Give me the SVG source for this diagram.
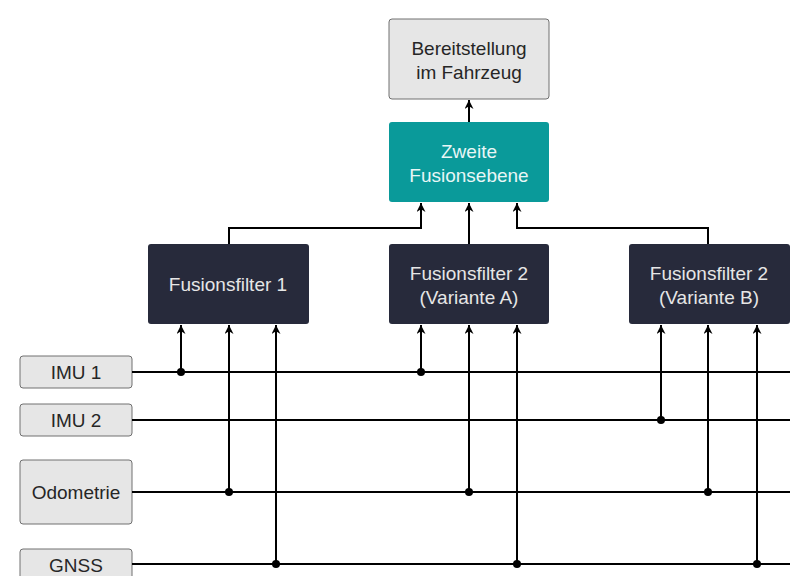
<svg xmlns="http://www.w3.org/2000/svg" width="790" height="576" viewBox="0 0 790 576">
<style>
text{font-family:"Liberation Sans",Arial,sans-serif;font-size:19px;text-anchor:middle;dominant-baseline:central}
.light rect{fill:#e6e6e6;stroke:#707070;stroke-width:1}
.light text{fill:#262626}
.dark rect{fill:#272a3b;stroke:none}
.dark text{fill:#e6e6e6}
.teal rect{fill:#0a9a9a;stroke:none}
.teal text{fill:#e8f6f6}
.c line,.c polyline{stroke:#000;stroke-width:2;fill:none}
.c circle{fill:#000}
</style>
<defs>
<marker id="ah" viewBox="0 0 10 10" refX="10" refY="5" markerWidth="10" markerHeight="9" orient="auto" markerUnits="userSpaceOnUse">
<path d="M0,0 L10,5 L0,10 L3,5 Z" fill="#000"/>
</marker>
</defs>
<g id="bereitstellung" class="light"><rect x="389" y="19" width="160" height="80" rx="3"/><text x="469" y="48">Bereitstellung</text><text x="469" y="72">im Fahrzeug</text></g>
<g id="zweite" class="teal"><rect x="389" y="122" width="160" height="80" rx="3"/><text x="469" y="151">Zweite</text><text x="469" y="175">Fusionsebene</text></g>
<g id="ff1" class="dark"><rect x="148" y="244" width="161" height="80" rx="3"/><text x="228" y="284">Fusionsfilter 1</text></g>
<g id="ff2a" class="dark"><rect x="389" y="244" width="160" height="80" rx="3"/><text x="469" y="273">Fusionsfilter 2</text><text x="469" y="297"> (Variante A)</text></g>
<g id="ff2b" class="dark"><rect x="629" y="244" width="161" height="80" rx="3"/><text x="709" y="273">Fusionsfilter 2</text><text x="709" y="297"> (Variante B)</text></g>
<g id="imu1" class="light"><rect x="20" y="356" width="112" height="32" rx="3"/><text x="76" y="372">IMU 1</text></g>
<g id="imu2" class="light"><rect x="20" y="404" width="112" height="32" rx="3"/><text x="76" y="420">IMU 2</text></g>
<g id="odometrie" class="light"><rect x="20" y="460" width="112" height="64" rx="3"/><text x="76" y="492">Odometrie</text></g>
<g id="gnss" class="light"><rect x="20" y="549" width="112" height="32" rx="3"/><text x="76" y="565">GNSS</text></g>
<g id="connectors" class="c">
<line x1="469" y1="122" x2="469" y2="100" marker-end="url(#ah)"/>
<polyline points="229,244 229,228 421,228 421,203" marker-end="url(#ah)"/>
<line x1="469" y1="244" x2="469" y2="203" marker-end="url(#ah)"/>
<polyline points="708,244 708,228 517,228 517,203" marker-end="url(#ah)"/>
<line x1="132" y1="372" x2="790" y2="372"/>
<line x1="132" y1="420" x2="790" y2="420"/>
<line x1="132" y1="492" x2="790" y2="492"/>
<line x1="132" y1="564" x2="790" y2="564"/>
<line x1="181" y1="372" x2="181" y2="325" marker-end="url(#ah)"/>
<line x1="229" y1="492" x2="229" y2="325" marker-end="url(#ah)"/>
<line x1="276" y1="564" x2="276" y2="325" marker-end="url(#ah)"/>
<line x1="421" y1="372" x2="421" y2="325" marker-end="url(#ah)"/>
<line x1="469" y1="492" x2="469" y2="325" marker-end="url(#ah)"/>
<line x1="517" y1="564" x2="517" y2="325" marker-end="url(#ah)"/>
<line x1="661" y1="420" x2="661" y2="325" marker-end="url(#ah)"/>
<line x1="708" y1="492" x2="708" y2="325" marker-end="url(#ah)"/>
<line x1="757" y1="564" x2="757" y2="325" marker-end="url(#ah)"/>
<circle cx="181" cy="372" r="4"/>
<circle cx="229" cy="492" r="4"/>
<circle cx="276" cy="564" r="4"/>
<circle cx="421" cy="372" r="4"/>
<circle cx="469" cy="492" r="4"/>
<circle cx="517" cy="564" r="4"/>
<circle cx="661" cy="420" r="4"/>
<circle cx="708" cy="492" r="4"/>
<circle cx="757" cy="564" r="4"/>
</g>
</svg>
